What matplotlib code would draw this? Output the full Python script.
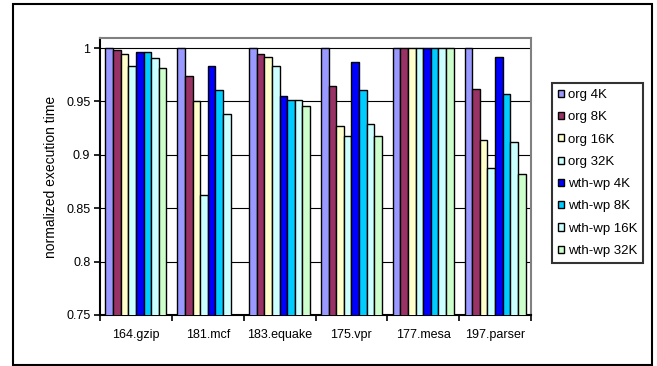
"""Normalized execution time per benchmark, org vs wth-wp cache sizes."""

import numpy as np
import matplotlib
matplotlib.use('Agg')
import matplotlib.pyplot as plt
from matplotlib.patches import Patch, Rectangle

plt.rcParams['font.family'] = ['Liberation Sans', 'DejaVu Sans']

BENCHMARKS = ['164.gzip', '181.mcf', '183.equake', '175.vpr', '177.mesa', '197.parser']
SERIES = ['org 4K', 'org 8K', 'org 16K', 'org 32K',
          'wth-wp 4K', 'wth-wp 8K', 'wth-wp 16K', 'wth-wp 32K']
COLORS = ['#9999FF', '#993366', '#FFFFCC', '#CCFFFF',
          '#0000FF', '#00CCFF', '#CCFFFF', '#CCFFCC']

org_4k = [1.0, 1.0, 1.0, 1.0, 1.0, 1.0]
org_8k = [0.998, 0.974, 0.994, 0.964, 1.0, 0.962]
org_16k = [0.994, 0.950, 0.992, 0.927, 1.0, 0.914]
org_32k = [0.983, 0.862, 0.983, 0.918, 1.0, 0.888]
wp_4k = [0.996, 0.983, 0.955, 0.987, 1.0, 0.992]
wp_8k = [0.996, 0.961, 0.951, 0.961, 1.0, 0.957]
wp_16k = [0.991, 0.938, 0.951, 0.929, 1.0, 0.912]
wp_32k = [0.981, np.nan, 0.946, 0.918, 1.0, 0.882]

VALUES = [org_4k, org_8k, org_16k, org_32k, wp_4k, wp_8k, wp_16k, wp_32k]
Y_TICKS = [0.75, 0.8, 0.85, 0.9, 0.95, 1]


def main():
    W, H = 657, 366
    fig = plt.figure(figsize=(W / 100, H / 100), dpi=100)
    ax = fig.add_axes([100 / W, 1 - 315 / H, 431 / W, 277 / H])

    n = len(SERIES)
    bw = 0.106
    x = np.arange(len(BENCHMARKS))
    for i, (vals, col) in enumerate(zip(VALUES, COLORS)):
        off = (i - (n - 1) / 2) * bw
        ax.bar(x + off, vals, width=bw, color=col, edgecolor='black',
               linewidth=1.0, zorder=3)

    ax.set_xlim(-0.5, len(BENCHMARKS) - 0.5)
    ax.set_ylim(0.75, 1.0094)
    ax.set_yticks(Y_TICKS)
    ax.set_yticklabels(['0.75', '0.8', '0.85', '0.9', '0.95', '1'])
    for y in Y_TICKS[1:]:
        ax.axhline(y, color='black', linewidth=0.8, zorder=1)

    ax.set_xticks(x)
    ax.set_xticklabels(BENCHMARKS)
    ax.set_xticks(np.arange(len(BENCHMARKS) + 1) - 0.5, minor=True)
    ax.tick_params(axis='x', which='major', length=0, labelsize=9, pad=10)
    ax.tick_params(axis='x', which='minor', length=4, width=1.2, direction='out')
    ax.tick_params(axis='y', length=4, width=1.2, labelsize=9, pad=3)

    ax.spines['left'].set_linewidth(1.5)
    ax.spines['bottom'].set_linewidth(1.5)
    ax.spines['top'].set_color('#808080')
    ax.spines['right'].set_color('#808080')
    ax.spines['top'].set_linewidth(1.5)
    ax.spines['right'].set_linewidth(1.5)

    ax.set_ylabel('normalized execution time', fontsize=10, labelpad=6)

    handles = [Patch(facecolor=c, edgecolor='black', linewidth=1.0) for c in COLORS]
    leg = fig.legend(handles, SERIES, loc='upper left',
                     bbox_to_anchor=(552 / W, 1 - 83 / H),
                     fontsize=9.5, frameon=True, fancybox=False,
                     handlelength=0.45, handleheight=0.45, handletextpad=0.3,
                     labelspacing=0.78, borderpad=0.45, borderaxespad=0)
    leg.get_frame().set_edgecolor('black')
    leg.get_frame().set_linewidth(1.5)

    fig.add_artist(Rectangle((13 / W, 1 - 365 / H), 639 / W, 361 / H,
                             transform=fig.transFigure, fill=False,
                             edgecolor='black', linewidth=1.5))

    fig.savefig('out.png', dpi=100)


if __name__ == '__main__':
    main()
